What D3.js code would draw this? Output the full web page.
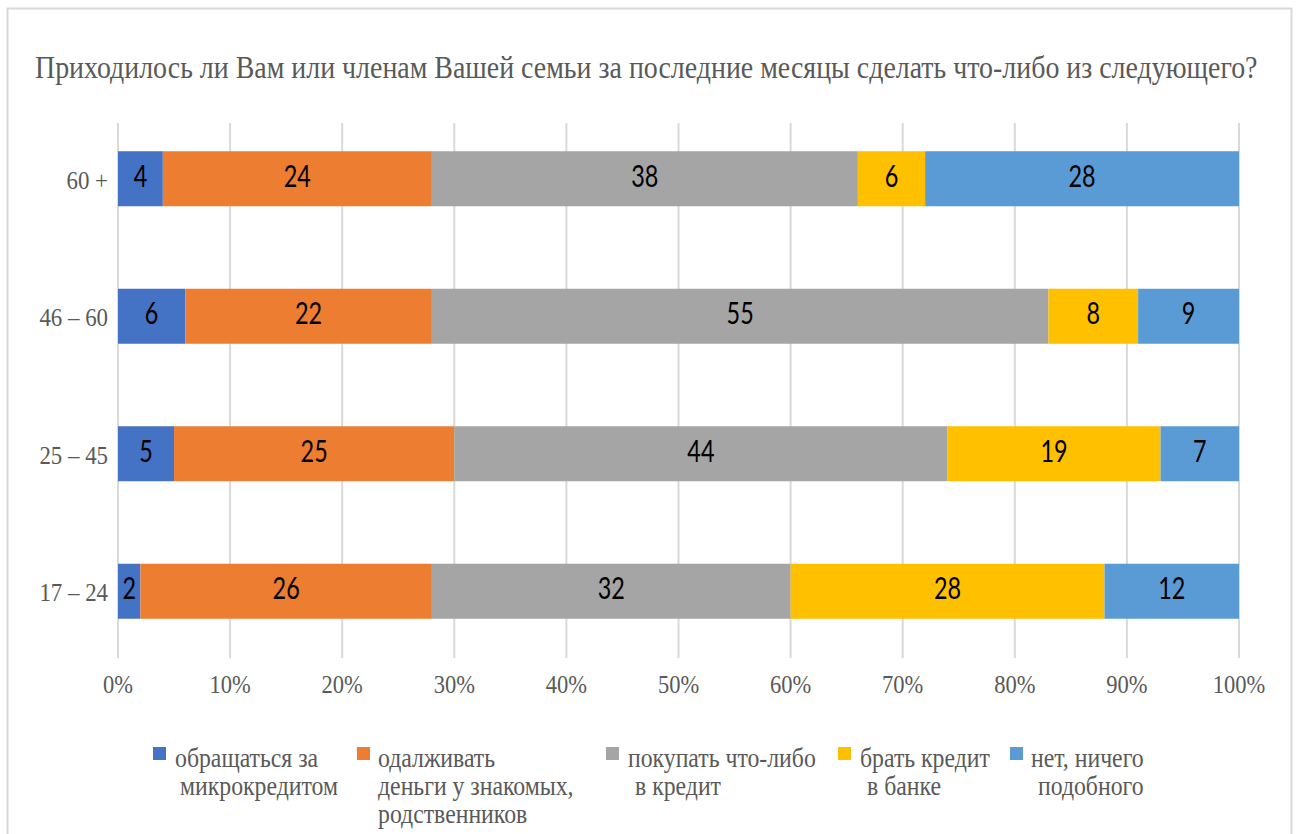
<!DOCTYPE html>
<html>
<head>
<meta charset="utf-8">
<script src="https://cdn.jsdelivr.net/npm/d3@7"></script>
<style>
body { margin: 0; background: #fff; }
svg text { font-family: "Liberation Serif", "Times New Roman", serif; fill: #595959; }
svg text.lbl { font-family: Lato, "Open Sans", sans-serif; fill: #000; }
</style>
</head>
<body>
<div id="chart"></div>
<script>
var width = 1296, height = 834;

var title = "Приходилось ли Вам или членам Вашей семьи за последние месяцы сделать что-либо из следующего?";
var groups = ["60 +", "46 – 60", "25 – 45", "17 – 24"];
var seriesNames = [
  ["обращаться за", "микрокредитом"],
  ["одалживать", "деньги  у знакомых,", "родственников"],
  ["покупать что-либо", "в кредит"],
  ["брать кредит", "в банке"],
  ["нет, ничего", "подобного"]
];
var colours = ["#4472C4", "#ED7D31", "#A5A5A5", "#FFC000", "#5B9BD5"];
var s1 = [4, 6, 5, 2];
var s2 = [24, 22, 25, 26];
var s3 = [38, 55, 44, 32];
var s4 = [6, 8, 19, 28];
var s5 = [28, 9, 7, 12];
var ticks = [0, 0.1, 0.2, 0.3, 0.4, 0.5, 0.6, 0.7, 0.8, 0.9, 1];

var series = [s1, s2, s3, s4, s5];

// text in the original is squeezed horizontally
function squeeze(k, fx, fy) {
  return function(d, i) {
    return "translate(" + fx(d, i) + "," + fy(d, i) + ") scale(" + k + ",1)";
  };
}

var svg = d3.select("#chart").append("svg")
  .attr("width", width)
  .attr("height", height);

// chart frame
svg.append("path")
  .attr("d", "M7.5," + height + "V8.5H1291.5V" + height)
  .attr("fill", "none")
  .attr("stroke", "#d9d9d9")
  .attr("stroke-width", 2);

// title, squeezed to fit the same span as the original
var titleText = svg.append("text")
  .style("font-size", "31px")
  .text(title);
var titleW = titleText.node().getComputedTextLength();
titleText.attr("transform", "translate(35,78) scale(" + (1223 / titleW) + ",1)");

var x = d3.scaleLinear().domain([0, 1]).range([118, 1239]);
var y = d3.scaleBand().domain(groups).range([110, 660]).paddingInner(0.6).paddingOuter(0.3);

// grid
svg.append("g").selectAll("line")
  .data(ticks).enter().append("line")
  .attr("x1", function(d) { return x(d); })
  .attr("x2", function(d) { return x(d); })
  .attr("y1", 123).attr("y2", 658)
  .attr("stroke", "#d9d9d9")
  .attr("stroke-width", 2);

// axis labels
var xAxis = d3.axisBottom(x).tickValues(ticks).tickFormat(d3.format(".0%")).tickSize(0).tickPadding(0);
var ax = svg.append("g").call(xAxis);
ax.select(".domain").remove();
ax.selectAll(".tick").attr("transform", null);
ax.selectAll("text")
  .attr("x", null).attr("y", null).attr("dy", null)
  .attr("transform", squeeze(0.9, function(d) { return x(d); }, function() { return 693; }))
  .attr("fill", "#595959")
  .style("font-size", "25px")
  .style("font-family", "Liberation Serif, serif");

// category labels
svg.append("g").selectAll("text")
  .data(groups).enter().append("text")
  .attr("transform", squeeze(0.88, function() { return 108; },
    function(d) { return y(d) + y.bandwidth() / 2 + 10; }))
  .attr("text-anchor", "end")
  .style("font-size", "26px")
  .text(function(d) { return d; });

// stacked bars
var rows = groups.map(function(g, i) {
  var r = { group: g };
  series.forEach(function(s, j) { r["s" + j] = s[i]; });
  return r;
});
var stack = d3.stack().keys(series.map(function(s, j) { return "s" + j; }));
var layers = stack(rows);

var layer = svg.append("g").selectAll("g")
  .data(layers).enter().append("g")
  .attr("fill", function(d, i) { return colours[i]; });

layer.selectAll("rect")
  .data(function(d) { return d; })
  .enter().append("rect")
  .attr("x", function(d) { return x(d[0] / 100); })
  .attr("y", function(d) { return y(d.data.group); })
  .attr("width", function(d) { return x(d[1] / 100) - x(d[0] / 100); })
  .attr("height", y.bandwidth());

layer.selectAll("text")
  .data(function(d) { return d; })
  .enter().append("text")
  .attr("class", "lbl")
  .attr("transform", squeeze(0.78,
    function(d) { return (x(d[0] / 100) + x(d[1] / 100)) / 2; },
    function(d) { return y(d.data.group) + y.bandwidth() / 2 + 8; }))
  .attr("text-anchor", "middle")
  .style("font-size", "30px")
  .text(function(d) { return d[1] - d[0]; });

// legend
var legendX = [153, 357, 606, 838, 1010];
var lineX = [
  [175, 180],
  [378, 378, 378],
  [628, 635],
  [860, 867],
  [1031, 1038]
];
var legend = svg.append("g").selectAll("g")
  .data(seriesNames).enter().append("g");

legend.append("rect")
  .attr("x", function(d, i) { return legendX[i]; })
  .attr("y", 747)
  .attr("width", 13).attr("height", 13)
  .attr("fill", function(d, i) { return colours[i]; });

legend.each(function(d, i) {
  d3.select(this).selectAll("text")
    .data(d).enter().append("text")
    .attr("transform", squeeze(0.88,
      function(t, k) { return lineX[i][k]; },
      function(t, k) { return 767 + k * 28; }))
    .style("font-size", "27px")
    .text(function(t) { return t; });
});
</script>
</body>
</html>
